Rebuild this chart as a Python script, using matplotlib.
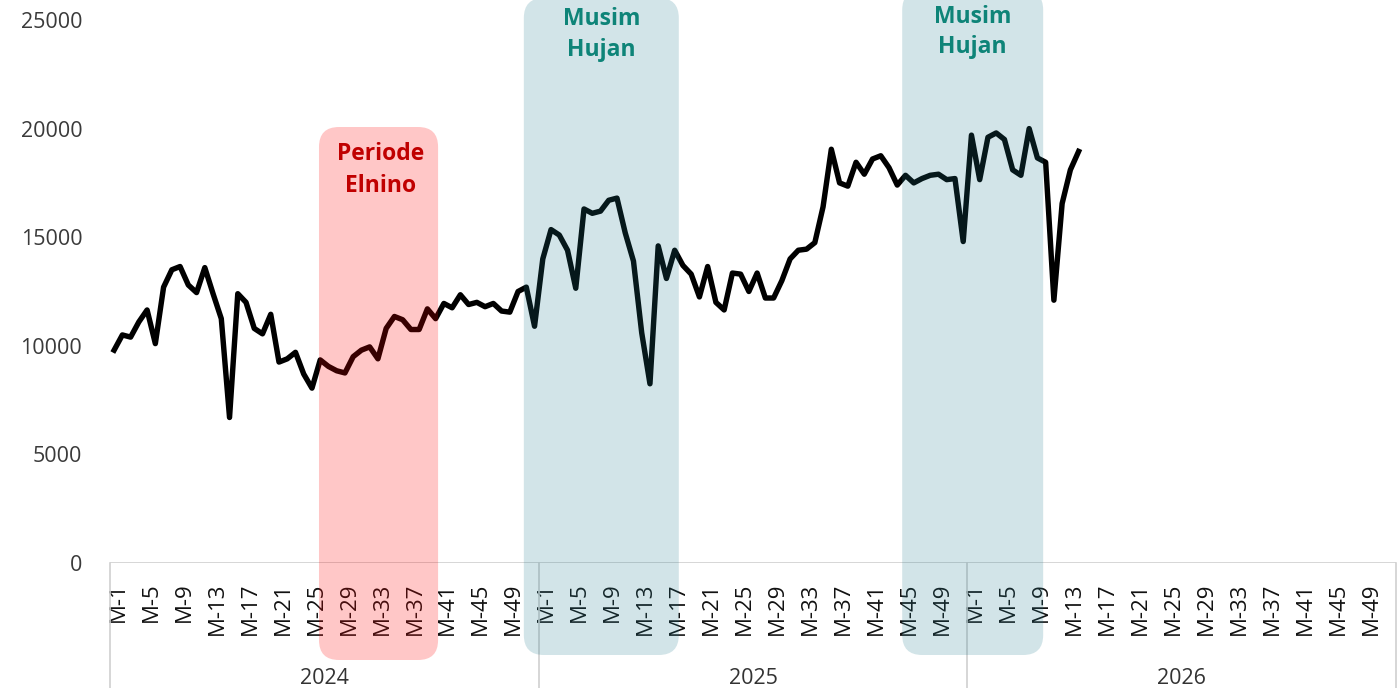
import matplotlib
matplotlib.use('Agg')
import matplotlib.pyplot as plt
from matplotlib.patches import FancyBboxPatch
from matplotlib.transforms import IdentityTransform, ScaledTranslation, blended_transform_factory

plt.rcParams['font.family'] = ['Open Sans', 'DejaVu Sans']

# weekly series, one list per year
years = ['2024', '2025', '2026']
weeks_per_year = 52
values_2024 = [9800, 10500, 10400, 11100, 11650, 10100, 12700, 13500, 13650, 12800,
               12450, 13600, 12400, 11250, 6700, 12400, 12000, 10800, 10550, 11450,
               9250, 9400, 9700, 8700, 8050, 9350, 9050, 8850, 8750, 9500,
               9800, 9950, 9400, 10800, 11350, 11200, 10750, 10750, 11700, 11250,
               11950, 11750, 12350, 11900, 12000, 11800, 11950, 11600, 11550, 12500,
               12700, 10900]
values_2025 = [14000, 15350, 15100, 14400, 12650, 16300, 16100, 16200, 16700, 16800,
               15200, 13900, 10600, 8250, 14600, 13100, 14400, 13700, 13300, 12250,
               13650, 12000, 11650, 13350, 13300, 12500, 13350, 12200, 12200, 13000,
               14000, 14400, 14450, 14750, 16400, 19050, 17500, 17350, 18450, 17900,
               18600, 18750, 18200, 17400, 17850, 17500, 17700, 17850, 17900, 17650,
               17700, 14800]
values_2026 = [19700, 17650, 19600, 19800, 19500, 18100, 17850, 20000, 18650, 18450,
               12100, 16550, 18100, 18950]
week_labels = ['M-%d' % w for w in range(1, weeks_per_year + 1, 4)]
y_ticks = [0, 5000, 10000, 15000, 20000, 25000]

elnino_label = ['Periode', 'Elnino']
hujan_label = ['Musim', 'Hujan']

# shaded periods in category-axis units
elnino_span = (24.85, 39.3)
hujan_spans = [(49.7, 68.5), (95.6, 112.7)]

W, H = 1400, 688
fig = plt.figure(figsize=(W / 100, H / 100), dpi=100)
ax = fig.add_axes([110 / W, 125 / H, 1286 / W, 543 / H])

series = values_2024 + values_2025 + values_2026
xs = list(range(len(series)))
ax.plot(xs, series, color='black', lw=3.9, solid_joinstyle='round', zorder=3)

n_cat = weeks_per_year * len(years)
ax.set_xlim(-0.5, n_cat - 0.5)
ax.set_ylim(0, 25000)
for s in ax.spines.values():
    s.set_visible(False)

ax.set_yticks(y_ticks)
ax.set_yticklabels([str(v) for v in y_ticks])
ax.tick_params(axis='y', length=0, pad=20, labelsize=15.5, labelcolor='#3a3a3a')

tick_pos = []
tick_lab = []
for k in range(len(years)):
    for i, lab in enumerate(week_labels):
        tick_pos.append(k * weeks_per_year + i * 4)
        tick_lab.append(lab)
ax.set_xticks(tick_pos)
ax.set_xticklabels(tick_lab, rotation=90, va='top', ha='center')
ax.tick_params(axis='x', length=0, pad=14, labelsize=16, labelcolor='#111111')
shift = ScaledTranslation(0.04, 0, fig.dpi_scale_trans)
for lab in ax.get_xticklabels():
    lab.set_transform(lab.get_transform() + shift)

# category axis box: base line and year separators
grey = '#d0d0d0'
ax.axhline(0, color=grey, lw=1.2, zorder=1)
sep = blended_transform_factory(ax.transData, IdentityTransform())
for k in range(len(years) + 1):
    xb = k * weeks_per_year - 0.5
    ax.plot([xb, xb], [125, -5], color=grey, lw=1.2, transform=sep, clip_on=False)
for k, yr in enumerate(years):
    ax.text(k * weeks_per_year + weeks_per_year / 2 - 0.5, 10, yr, transform=sep,
            ha='center', va='center', fontsize=15.5, color='#333333', clip_on=False)


def shade(span, y0, y1, color, alpha):
    x0 = ax.transData.transform((span[0], 0))[0]
    x1 = ax.transData.transform((span[1], 0))[0]
    box = FancyBboxPatch((x0, y0), x1 - x0, y1 - y0,
                         boxstyle='round,pad=0,rounding_size=20',
                         transform=IdentityTransform(), fc=color, ec='none',
                         alpha=alpha, zorder=5)
    fig.add_artist(box)
    return (x0 + x1) / 2


def label(xc, baselines, lines, color):
    for yb, txt in zip(baselines, lines):
        fig.text(xc / W, yb / H, txt, ha='center', va='baseline', fontsize=16.5,
                 fontweight='bold', color=color, zorder=6)


xc = shade(elnino_span, 28, 561, '#ff0000', 0.22)
label(xc + 2, [528, 496], elnino_label, '#c00000')

xc = shade(hujan_spans[0], 33, 690, '#1f7a8c', 0.2)
label(xc, [663, 632], hujan_label, '#0e8478')
xc = shade(hujan_spans[1], 33, 698, '#1f7a8c', 0.2)
label(xc, [665, 635], hujan_label, '#0e8478')

fig.savefig('out.png', dpi=100)
